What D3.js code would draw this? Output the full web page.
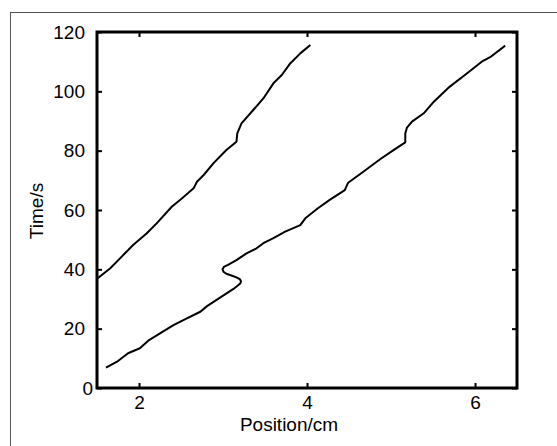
<!DOCTYPE html>
<html>
<head>
<meta charset="utf-8">
<script src="https://cdn.jsdelivr.net/npm/d3@7"></script>
<style>
  html, body { margin: 0; padding: 0; background: #fff; }
  svg { display: block; font-family: "Liberation Sans", Arial, sans-serif; }
</style>
</head>
<body>
<div id="chart"></div>
<script>
// position (cm) and time (s)
const frontA_x = [1.50, 1.655, 1.774, 1.93, 2.09, 2.21, 2.39, 2.51, 2.65, 2.69, 2.77, 2.885, 3.04, 3.16, 3.17, 3.22, 3.36, 3.48, 3.60, 3.70, 3.80, 3.92, 4.04];
const frontA_t = [36.8, 40.3, 43.7, 48.2, 52.1, 55.5, 61.1, 63.9, 67.3, 69.5, 71.8, 75.7, 80.2, 83.0, 85.8, 89.2, 93.7, 97.6, 102.7, 105.5, 109.4, 112.8, 115.6];

const frontB_x = [1.607, 1.75, 1.87, 2.01, 2.11, 2.25, 2.41, 2.57, 2.73, 2.81, 2.96, 3.12, 3.17, 3.205, 3.215, 3.20, 3.16, 3.10, 3.04, 3.005, 2.995, 3.01, 3.06, 3.16, 3.28, 3.40, 3.48, 3.60, 3.74, 3.92, 3.98, 4.13, 4.27, 4.45, 4.49, 4.67, 4.87, 5.03, 5.17, 5.17, 5.19, 5.25, 5.39, 5.51, 5.70, 5.88, 6.08, 6.18, 6.36];
const frontB_t = [6.85, 9.1, 11.7, 13.4, 15.95, 18.4, 21.2, 23.5, 25.7, 27.6, 30.4, 33.3, 34.4, 35.2, 36.0, 36.7, 37.3, 37.9, 38.5, 39.2, 40.0, 40.8, 41.5, 43.1, 45.4, 47.1, 48.8, 50.5, 52.7, 54.9, 57.2, 60.6, 63.4, 66.7, 69.2, 72.9, 77.1, 80.2, 82.8, 85.8, 87.8, 89.8, 92.6, 96.5, 101.6, 105.5, 110.0, 111.5, 115.4];

const xTicks = [2, 4, 6];
const yTicks = [0, 20, 40, 60, 80, 100, 120];

const W = 557, H = 446;
const m = { left: 97, top: 32, right: 517, bottom: 388 };

const svg = d3.select("#chart").append("svg")
  .attr("width", W).attr("height", H);

// outer grey frame (runs off the right/bottom edge)
svg.append("rect")
  .attr("x", 10.5).attr("y", 12.5).attr("width", 600).attr("height", 500)
  .attr("fill", "none").attr("stroke", "#555").attr("stroke-width", 1);

const x = d3.scaleLinear().domain([1.5, 6.5]).range([m.left, m.right]);
const y = d3.scaleLinear().domain([0, 120]).range([m.bottom, m.top]);

const tickLen = 5;
const fmt = d3.format("d");

// inward ticks on all four sides
const axB = svg.append("g").attr("transform", `translate(0,${m.bottom})`)
  .call(d3.axisBottom(x).tickValues(xTicks).tickFormat(fmt).tickSizeInner(-tickLen).tickSizeOuter(0));
const axT = svg.append("g").attr("transform", `translate(0,${m.top})`)
  .call(d3.axisTop(x).tickValues(xTicks).tickSizeInner(-tickLen).tickSizeOuter(0).tickFormat(""));
const axL = svg.append("g").attr("transform", `translate(${m.left},0)`)
  .call(d3.axisLeft(y).tickValues(yTicks).tickFormat(fmt).tickSizeInner(-tickLen).tickSizeOuter(0).tickPadding(12));
const axR = svg.append("g").attr("transform", `translate(${m.right},0)`)
  .call(d3.axisRight(y).tickValues(yTicks).tickSizeInner(-tickLen).tickSizeOuter(0).tickFormat(""));

[axB, axT, axL, axR].forEach(g => {
  g.select(".domain").remove();
  g.selectAll(".tick line").attr("stroke", "#000").attr("stroke-width", 2);
  g.selectAll("text").attr("font-size", 19).attr("fill", "#000")
    .attr("font-family", "Liberation Sans, Arial, sans-serif");
});
// the zero label sits a little closer to the axis
axL.selectAll(".tick").filter(d => d === 0).select("text").attr("x", -4);
axB.selectAll("text").attr("dy", "0.71em").attr("y", 8);

// plot frame
svg.append("rect")
  .attr("x", m.left).attr("y", m.top)
  .attr("width", m.right - m.left).attr("height", m.bottom - m.top)
  .attr("fill", "none").attr("stroke", "#000").attr("stroke-width", 3);

const line = d3.line().x(d => x(d[0])).y(d => y(d[1])).curve(d3.curveLinear);

[[frontA_x, frontA_t], [frontB_x, frontB_t]].forEach(([xs, ts]) => {
  svg.append("path")
    .datum(xs.map((v, i) => [v, ts[i]]))
    .attr("d", line)
    .attr("fill", "none").attr("stroke", "#000").attr("stroke-width", 2)
    .attr("stroke-linejoin", "round");
});

svg.append("text")
  .attr("x", (m.left + m.right) / 2 - 18).attr("y", 431)
  .attr("text-anchor", "middle").attr("font-size", 19)
  .text("Position/cm");

svg.append("text")
  .attr("transform", `translate(43,211) rotate(-90)`)
  .attr("text-anchor", "middle").attr("font-size", 19)
  .text("Time/s");
</script>
</body>
</html>
